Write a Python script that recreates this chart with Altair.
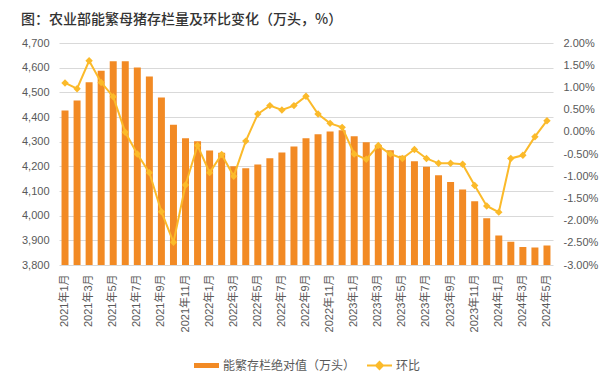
import altair as alt
import pandas as pd

months = [
    "2021年1月", "2021年2月", "2021年3月", "2021年4月", "2021年5月", "2021年6月",
    "2021年7月", "2021年8月", "2021年9月", "2021年10月", "2021年11月", "2021年12月",
    "2022年1月", "2022年2月", "2022年3月", "2022年4月", "2022年5月", "2022年6月",
    "2022年7月", "2022年8月", "2022年9月", "2022年10月", "2022年11月", "2022年12月",
    "2023年1月", "2023年2月", "2023年3月", "2023年4月", "2023年5月", "2023年6月",
    "2023年7月", "2023年8月", "2023年9月", "2023年10月", "2023年11月", "2023年12月",
    "2024年1月", "2024年2月", "2024年3月", "2024年4月", "2024年5月",
]
tick_months = [
    "2021年1月", "2021年3月", "2021年5月", "2021年7月", "2021年9月", "2021年11月",
    "2022年1月", "2022年3月", "2022年5月", "2022年7月", "2022年9月", "2022年11月",
    "2023年1月", "2023年3月", "2023年5月", "2023年7月", "2023年9月", "2023年11月",
    "2024年1月", "2024年3月", "2024年5月",
]
sows = [
    4426, 4467, 4541, 4588, 4626, 4626, 4601, 4564, 4479, 4369,
    4314, 4302, 4264, 4255, 4200, 4192, 4207, 4233, 4256, 4280,
    4314, 4330, 4341, 4346, 4322, 4298, 4285, 4265, 4243, 4221,
    4198, 4164, 4136, 4106, 4058, 3990, 3920, 3894, 3873, 3871, 3879,
]
mom = [
    1.10, 0.97, 1.60, 1.11, 0.79, -0.01, -0.50, -0.92, -1.80, -2.49,
    -1.20, -0.31, -0.92, -0.51, -1.00, -0.21, 0.40, 0.59, 0.49, 0.59,
    0.80, 0.40, 0.19, 0.10, -0.50, -0.62, -0.31, -0.50, -0.60, -0.40,
    -0.60, -0.71, -0.71, -0.73, -1.21, -1.67, -1.81, -0.60, -0.53, -0.11, 0.25,
]
left_ticks = [3800, 3900, 4000, 4100, 4200, 4300, 4400, 4500, 4600, 4700]
right_ticks = [-3.0, -2.5, -2.0, -1.5, -1.0, -0.5, 0.0, 0.5, 1.0, 1.5, 2.0]
bar_name = "能繁存栏绝对值（万头）"
line_name = "环比"

df = pd.DataFrame({"month": months, "sows": sows, "mom": mom,
                   "s1": bar_name, "s2": line_name})

FONT = "Liberation Sans, Arial, Noto Sans CJK SC"
ORANGE = "#F28A24"
GOLD = "#FBBA2A"
TXT = "#595959"

x = alt.X("month:N", sort=months,
          scale=alt.Scale(paddingInner=0.42, paddingOuter=0.21),
          axis=alt.Axis(title=None, values=tick_months, labelAngle=270,
                        labelPadding=9, ticks=False, domain=False,
                        labelFontSize=11, labelColor=TXT, labelFont=FONT,
                        labelOverlap=False))

bars = alt.Chart(df).mark_bar(clip=True).encode(
    x=x,
    y=alt.Y("sows:Q", scale=alt.Scale(domain=[3800, 4700], zero=False, nice=False),
            axis=alt.Axis(title=None, values=left_ticks, format=",.0f", grid=True,
                          gridColor="#d9d9d9", domain=False, ticks=False,
                          labelPadding=10, labelFontSize=11, labelColor=TXT,
                          labelFont=FONT)),
    fill=alt.Fill("s1:N", scale=alt.Scale(domain=[bar_name], range=[ORANGE]),
                  legend=alt.Legend(title=None, orient="none", legendX=134, legendY=309,
                                    symbolType="M-1,-0.2H1V0.2H-1Z", symbolSize=625,
                                    labelFontSize=12, labelColor=TXT, labelFont=FONT,
                                    labelOffset=3)),
)

y2 = alt.Y("mom:Q", scale=alt.Scale(domain=[-3, 2], nice=False, zero=False),
           axis=alt.Axis(orient="right", title=None, values=right_ticks,
                         labelExpr="(datum.value < 0 ? '-' : '') + format(abs(datum.value), '.2f') + '%'",
                         grid=False, domain=False, ticks=False, labelPadding=10,
                         labelFontSize=11, labelColor=TXT, labelFont=FONT))

line = alt.Chart(df).mark_line(strokeWidth=2).encode(
    x=x,
    y=y2,
    stroke=alt.Stroke("s2:N", scale=alt.Scale(domain=[line_name], range=[GOLD]),
                      legend=alt.Legend(title=None, orient="none", legendX=307, legendY=309,
                                        symbolType="M-1,0H1M0,-0.28L0.28,0L0,0.28L-0.28,0Z",
                                        symbolSize=625, symbolStrokeWidth=2,
                                        symbolFillColor=GOLD,
                                        labelFontSize=12, labelColor=TXT, labelFont=FONT,
                                        labelOffset=3)),
)
points = alt.Chart(df).mark_point(shape="diamond", filled=True, size=55,
                                  color=GOLD, opacity=1).encode(x=x, y=y2)

chart = alt.layer(bars, alt.layer(line, points)).resolve_scale(
    y="independent"
).properties(
    width=494, height=222,
    autosize=alt.AutoSizeParams(type="none"),
    padding={"left": 51, "top": 35, "right": 48, "bottom": 108},
    title=alt.TitleParams(text="图：农业部能繁母猪存栏量及环比变化（万头，%）",
                          anchor="start", frame="group", dx=-38, offset=10,
                          fontSize=14, font="Noto Sans CJK SC", fontWeight=500,
                          color="#333333"),
).configure_view(stroke=None)

chart.save("out.html", embed_options={"renderer": "svg", "actions": False})
